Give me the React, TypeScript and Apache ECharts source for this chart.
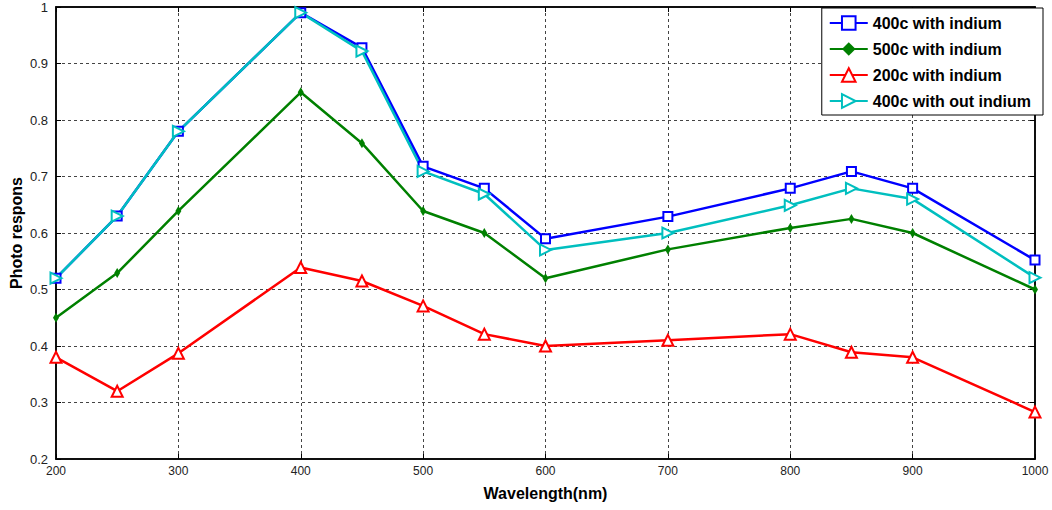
import React, { useEffect, useRef } from "react";
import * as echarts from "echarts";

const wavelengths = [200, 250, 300, 400, 450, 500, 550, 600, 700, 800, 850, 900, 1000];
const s400In = [0.52, 0.63, 0.78, 0.99, 0.928, 0.718, 0.679, 0.59, 0.629, 0.679, 0.709, 0.679, 0.552];
const s500In = [0.45, 0.529, 0.639, 0.849, 0.759, 0.639, 0.6, 0.52, 0.571, 0.609, 0.625, 0.6, 0.5];
const s200In = [0.38, 0.32, 0.387, 0.539, 0.515, 0.471, 0.421, 0.4, 0.41, 0.421, 0.389, 0.38, 0.283];
const s400Out = [0.52, 0.63, 0.78, 0.99, 0.922, 0.709, 0.669, 0.57, 0.6, 0.649, 0.679, 0.66, 0.521];
const seriesNames = ["400c with indium", "500c with indium", "200c with indium", "400c with out indium"];

const pair = (ys: number[]) => wavelengths.map((x, i) => [x, ys[i]]);

export default function App() {
  const ref = useRef<HTMLDivElement>(null);
  useEffect(() => {
    const chart = echarts.init(ref.current!, null, { renderer: "svg" });
    const font = "Liberation Sans, Arial, sans-serif";
    const gridLine = { show: true, lineStyle: { color: "#444", type: [3, 3] as any, width: 1 } };
    chart.setOption({
      animation: false,
      backgroundColor: "#fff",
      grid: {
        left: 56,
        right: 17,
        top: 7,
        bottom: 51,
        containLabel: false,
        outerBoundsMode: "none",
        show: true,
        borderColor: "#000",
        borderWidth: 1.5,
      },
      legend: {
        orient: "vertical",
        right: 9,
        top: 8,
        backgroundColor: "#fff",
        borderColor: "#000",
        borderWidth: 1,
        padding: [7, 12, 6, 7],
        itemGap: 10,
        itemWidth: 38,
        itemHeight: 17,
        textStyle: { fontFamily: font, fontWeight: "bold", fontSize: 16, color: "#000" },
        data: seriesNames,
      },
      xAxis: [
        {
          type: "value",
          min: 200,
          max: 1000,
          interval: 100,
          name: "Wavelength(nm)",
          nameLocation: "middle",
          nameGap: 26,
          nameTextStyle: { fontFamily: font, fontWeight: "bold", fontSize: 16, color: "#000" },
          axisLine: { show: true, lineStyle: { color: "#000", width: 1.5 } },
          axisTick: { show: true, inside: true, length: 5, lineStyle: { color: "#000" } },
          axisLabel: { fontFamily: font, fontSize: 12, color: "#222", margin: 6, formatter: (v: number) => String(v) },
          splitLine: gridLine,
        },
        {
          type: "value",
          position: "top",
          min: 200,
          max: 1000,
          interval: 100,
          axisLine: { show: true, lineStyle: { color: "#000", width: 1.5 } },
          axisTick: { show: true, inside: true, length: 5, lineStyle: { color: "#000" } },
          axisLabel: { show: false },
          splitLine: { show: false },
        },
      ],
      yAxis: [
        {
          type: "value",
          min: 0.2,
          max: 1,
          interval: 0.1,
          name: "Photo respons",
          nameLocation: "middle",
          nameGap: 32,
          nameMoveOverlap: false,
          nameTextStyle: { fontFamily: font, fontWeight: "bold", fontSize: 16, color: "#000" },
          axisLine: { show: true, lineStyle: { color: "#000", width: 1.5 } },
          axisTick: { show: true, inside: true, length: 5, lineStyle: { color: "#000" } },
          axisLabel: {
            fontFamily: font,
            fontSize: 13,
            color: "#222",
            margin: 8,
            formatter: (v: number) => String(Math.round(v * 10) / 10),
          },
          splitLine: gridLine,
        },
        {
          type: "value",
          position: "right",
          min: 0.2,
          max: 1,
          interval: 0.1,
          axisLine: { show: true, lineStyle: { color: "#000", width: 1.5 } },
          axisTick: { show: true, inside: true, length: 5, lineStyle: { color: "#000" } },
          axisLabel: { show: false },
          splitLine: { show: false },
        },
      ],
      series: [
        {
          name: seriesNames[0],
          type: "line",
          data: pair(s400In),
          symbol: "emptyRect",
          symbolSize: 9,
          itemStyle: { color: "#0000ff", borderWidth: 2 },
          lineStyle: { width: 2.5, color: "#0000ff" },
        },
        {
          name: seriesNames[1],
          type: "line",
          data: pair(s500In),
          symbol: "diamond",
          symbolSize: [6, 10],
          itemStyle: { color: "#008000" },
          lineStyle: { width: 2.5, color: "#008000" },
        },
        {
          name: seriesNames[2],
          type: "line",
          data: pair(s200In),
          symbol: "emptyTriangle",
          symbolSize: 11,
          itemStyle: { color: "#ff0000", borderWidth: 2 },
          lineStyle: { width: 2.5, color: "#ff0000" },
        },
        {
          name: seriesNames[3],
          type: "line",
          data: pair(s400Out),
          symbol: "emptyTriangle",
          symbolRotate: -90,
          symbolSize: 11,
          itemStyle: { color: "#00bfbf", borderWidth: 2 },
          lineStyle: { width: 2.5, color: "#00bfbf" },
        },
      ],
    });
    return () => chart.dispose();
  }, []);
  return (
    <div
      ref={ref}
      style={{ position: "absolute", left: 0, top: 0, width: 1052, height: 510, background: "#fff" }}
    />
  );
}
